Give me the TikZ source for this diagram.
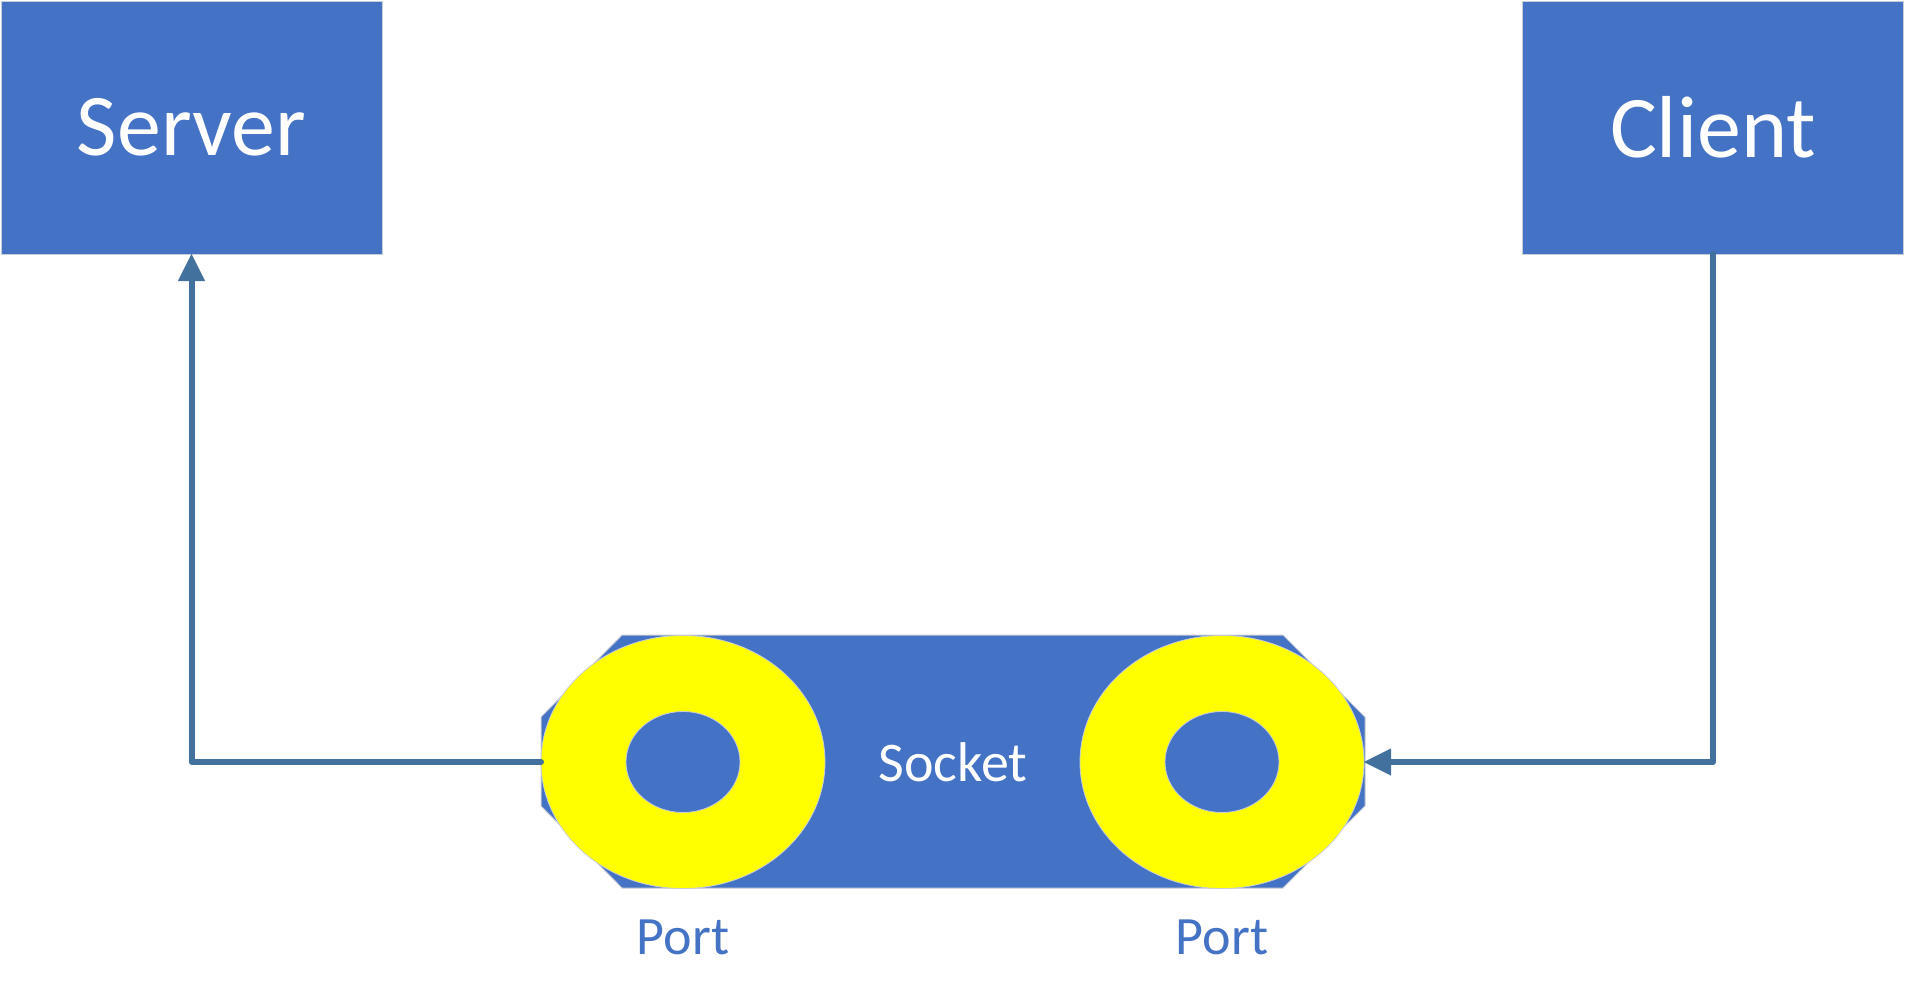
\documentclass[tikz,border=0pt]{standalone}
\usepackage{fontspec}
\setmainfont{Carlito}
\usetikzlibrary{arrows.meta,shapes.geometric}
\definecolor{boxblue}{HTML}{4472C4}
\definecolor{edgegray}{HTML}{C9CDD6}
\definecolor{linkblue}{HTML}{41719C}
\definecolor{portyellow}{HTML}{FFFF00}
\tikzset{
  hostbox/.style={rectangle, fill=boxblue, draw=edgegray, line width=1pt,
    minimum width=381pt, minimum height=253pt, inner sep=0pt, outer sep=0pt,
    text=white, font=\fontsize{88}{100}\selectfont},
  portring/.style={ellipse, fill=portyellow, draw=edgegray, line width=0.8pt,
    minimum width=284pt, minimum height=253pt, inner sep=0pt, outer sep=0pt},
  porthole/.style={ellipse, fill=boxblue, draw=edgegray, line width=0.8pt,
    minimum width=114pt, minimum height=101pt, inner sep=0pt, outer sep=0pt},
  portlabel/.style={text=boxblue, font=\fontsize{54}{60}\selectfont, inner sep=0pt},
  socketlabel/.style={text=white, font=\fontsize{56}{60}\selectfont, inner sep=0pt},
  conn/.style={draw=linkblue, line width=6pt, line cap=round, line join=round,
    -{Triangle[length=27pt,width=27pt,line width=0.1pt,sharp]}},
}
\begin{document}
\begin{tikzpicture}[x=1pt,y=-1pt]
\useasboundingbox[fill=white] (0,0) rectangle (1905,997);
% hosts
\node[hostbox] (server) at (191.5,127.5) {Server};
\node[hostbox] (client) at (1713,127.5) {Client};
% socket body
\draw[fill=boxblue, draw=edgegray, line width=1pt]
  (622,635) -- (1283,635) -- (1365,717) -- (1365,806) -- (1283,888)
  -- (622,888) -- (541,806) -- (541,717) -- cycle;
\node[socketlabel] (socket) at (953,762) {Socket};
% ports
\node[portring] (portL) at (683,762) {};
\node[porthole] (holeL) at (683,762) {};
\node[portring] (portR) at (1222,762) {};
\node[porthole] (holeR) at (1222,762) {};
\node[portlabel] (plabelL) at (683,937) {Port};
\node[portlabel] (plabelR) at (1222,937) {Port};
% connectors
\draw[conn] (portL.west) -| (server.south);
\draw[conn] (client.south) |- (portR.east);
\end{tikzpicture}
\end{document}
